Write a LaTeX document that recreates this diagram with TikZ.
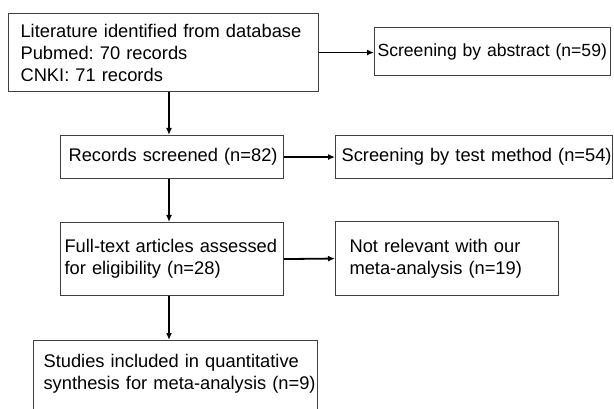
\documentclass[tikz,border=0pt]{standalone}
\usepackage{fontspec}
\setmainfont{Liberation Sans}
\frenchspacing
\usetikzlibrary{arrows.meta}
\begin{document}
\begin{tikzpicture}[x=1pt,y=-1pt,
    box/.style={draw=black!75,line width=1.1pt,anchor=north west,align=left,
      font=\fontsize{18.3}{22}\selectfont,inner xsep=0pt,inner ysep=0pt},
    pad/.style={execute at begin node={\leftskip=#1pt\rightskip=-30pt plus 1fil\relax},
      execute at end node={\endgraf}},
    arr/.style={line width=1.8pt,-{Latex[length=7pt,width=6pt]}}]
                \useasboundingbox (0,0) rectangle (614,409);
                \clip (0,0) rectangle (614,409);
                \node[box,pad=12,minimum width=310,minimum height=78,text width=310] (b1) at (8,13)
                  {Literature identified from database\\Pubmed: 70 records\\CNKI: 71 records};
                \node[box,pad=3,minimum width=236,minimum height=48,text width=236,
                  font=\fontsize{17.6}{22}\selectfont] (b2) at (374,27)
                  {Screening by abstract (n=59)};
                \node[box,pad=8,minimum width=223,minimum height=43,text width=223] (b3) at (60,135)
                  {Records screened (n=82)};
                \node[box,pad=6,minimum width=277,minimum height=43,text width=277] (b4) at (335,135)
                  {Screening by test method (n=54)};
                \node[box,pad=4,minimum width=223,minimum height=73,text width=223] (b5) at (60,222)
                  {Full-text articles assessed\\for eligibility (n=28)};
                \node[box,pad=14,minimum width=223,minimum height=74,text width=223] (b6) at (335,221)
                  {Not relevant with our\\meta-analysis (n=19)};
                \node[box,pad=10,minimum width=284,text width=284,inner ysep=14,text depth=60] (b7) at (33,340)
                  {Studies included in quantitative\\synthesis for meta-analysis (n=9)};
                \coordinate (spine) at (169,0);
                \draw[arr] (b1.south -| spine) -- (b3.north -| spine);
                \draw[arr] (b3.south -| spine) -- (b5.north -| spine);
                \draw[arr] (b5.south -| spine) -- (b7.north -| spine);
                \draw[arr] (b1.east) -- (b1.east -| b2.west);
                \draw[arr] (b3.east) -- (b4.west);
                \draw[arr] (b5.east) -- (b6.west);
\end{tikzpicture}
\end{document}
